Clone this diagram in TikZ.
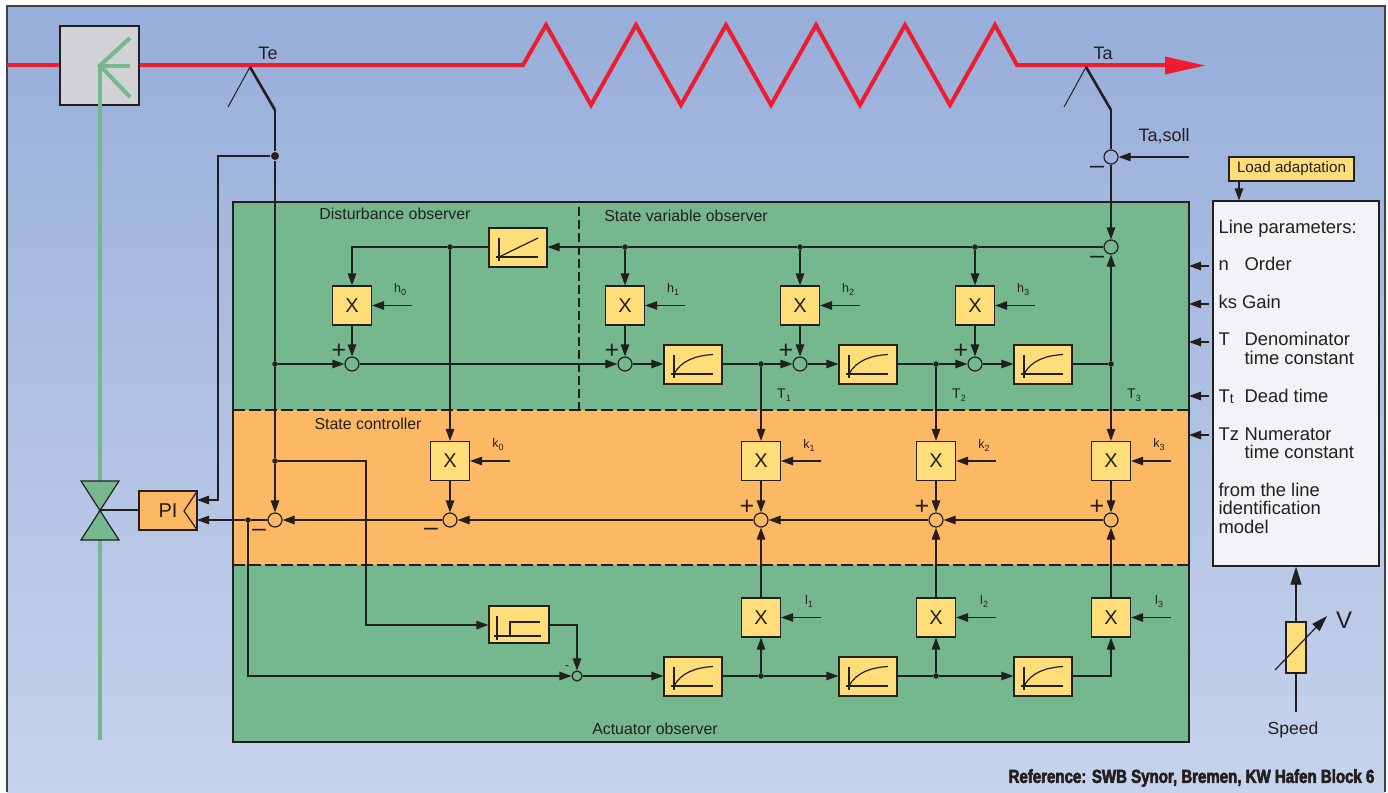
\documentclass[tikz,border=0pt]{standalone}
\usepackage{fontspec}
\setmainfont{Liberation Sans}
\newfontfamily\reffont[FakeStretch=0.8,BoldFeatures={FakeBold=3}]{Liberation Sans}
\usetikzlibrary{arrows.meta}
\definecolor{skytop}{HTML}{97AEDA}
\definecolor{skybot}{HTML}{C6D3EC}
\definecolor{obsgreen}{HTML}{75B88E}
\definecolor{ctrlorange}{HTML}{FDB863}
\definecolor{blockyellow}{HTML}{FFDE79}
\definecolor{pipered}{HTML}{EE1C2E}
\definecolor{inkline}{HTML}{231F20}
\definecolor{paramwhite}{HTML}{F1F3F6}
\definecolor{mixgrey}{HTML}{D0D2D6}

\begin{document}
\begin{tikzpicture}
    [x=1pt, y=-1pt, line width=1.2pt, draw=inkline,
     every node/.style={font=\fontsize{15.9}{18}\selectfont, text=inkline, inner sep=0pt},
     >={Triangle[length=12pt,width=8.5pt]},
     mult/.style={draw, fill=blockyellow, minimum width=39pt, minimum height=39pt, font=\fontsize{20}{20}\selectfont},
     lagbox/.style={draw, fill=blockyellow, minimum width=58pt, minimum height=39pt},
     sumnode/.style={draw, circle, minimum size=14pt},
     smallsum/.style={draw, circle, minimum size=10pt},
     joint/.style={circle, fill=inkline, minimum size=5.5pt},
     gain/.style={font=\fontsize{12.5}{14}\selectfont},
     sign/.style={font=\fontsize{25}{25}\selectfont},
     paramtext/.style={anchor=base west, font=\fontsize{18.4}{20}\selectfont},
     bigtext/.style={font=\fontsize{18}{20}\selectfont},
     pipe/.style={line width=4pt, pipered},
     steam/.style={line width=4pt, obsgreen},
     feeler/.style={line width=1pt},
     feelerthick/.style={line width=2.6pt}]

    \useasboundingbox (0,0) rectangle (1388,792);

    % background
    \shade[top color=skytop, bottom color=skybot] (7,6) rectangle (1385,792);
    \draw[line width=1.5pt, draw=black!75] (7,792) -- (7,6) -- (1385,6) -- (1385,792);

    % the three panels
    \draw[fill=obsgreen] (233,202) rectangle (1189,742);
    \fill[ctrlorange] (233.6,410) rectangle (1188.4,565);
    \draw[dashed, dash pattern=on 12pt off 4pt] (233,410) -- (1189,410);
    \draw[dashed, dash pattern=on 12pt off 4pt] (233,565) -- (1189,565);
    \draw[dashed, dash pattern=on 9pt off 4pt] (579,207) -- (579,410);

    \node (distlab) at (395,214) {Disturbance observer};
    \node (statelab) at (686,216) {State variable observer};
    \node (ctrllab) at (368,424) {State controller};
    \node (actlab) at (655,729) {Actuator observer};

    % plant line
    \node (mixbox) [draw, fill=mixgrey, minimum width=79pt, minimum height=79pt] at (99.5,65.5) {};
    \coordinate (redin) at (7,65);
    \coordinate (mixpt) at (100,65.5);
    \coordinate (redout) at (1172,65);
    \draw[pipe] (redin) -- (mixbox.west |- redin);
    \draw[pipe] (mixbox.east |- redin) -- (523,65) -- (546,25) -- (591,105) -- (636,25) -- (681,105)
        -- (726,25) -- (771,105) -- (816,25) -- (860,105) -- (905,25) -- (950,105) -- (995,25)
        -- (1017,65) -- (redout);
    \fill[pipered] (1165,56.5) -- (1205,65.5) -- (1165,74.5) -- cycle;

    \coordinate (steamend) at (100,740);
    \draw[steam] (steamend) -- (mixpt);
    \draw[steam] (130,38) -- (mixpt) -- (130,97);
    \draw[steam] (mixpt) -- (130,65.5);

    \node (te) [bigtext] at (268,53) {Te};
    \node (ta) [bigtext] at (1103,53) {Ta};
    \node (tasoll) [bigtext] at (1164,136) {Ta,soll};

    % sensors
    \coordinate (teapex) at (250,67);
    \coordinate (tefoot) at (275,110);
    \coordinate (taapex) at (1086,67);
    \coordinate (tafoot) at (1111,110);
    \draw[feeler] (teapex) -- (228,107);
    \draw[feelerthick] (teapex) -- (tefoot);
    \draw[feeler] (taapex) -- (1064,107);
    \draw[feelerthick] (taapex) -- (tafoot);

    % valve and PI
    \node (pi) [draw, fill=ctrlorange, minimum width=58pt, minimum height=39pt, font=\fontsize{20}{20}\selectfont] at (168,510.5) {PI};
    \coordinate (valve) at (100,510);
    \draw[fill=obsgreen] (81,481) -- (119,481) -- (81,540) -- (119,540) -- cycle;
    \draw (valve) -- (pi.west |- valve);
    \draw (pi.north east) -- (184,511) -- (pi.south east);

    % multipliers
    \node (xh0) [mult] at (352,305.5) {X};
    \node (xh1) [mult] at (625,305.5) {X};
    \node (xh2) [mult] at (800,305.5) {X};
    \node (xh3) [mult] at (975,305.5) {X};
    \node (xk0) [mult] at (450,461) {X};
    \node (xk1) [mult] at (761,461) {X};
    \node (xk2) [mult] at (936,461) {X};
    \node (xk3) [mult] at (1111,461) {X};
    \node (xl1) [mult] at (761,617.5) {X};
    \node (xl2) [mult] at (936,617.5) {X};
    \node (xl3) [mult] at (1111,617.5) {X};

    % lag blocks, ramp and step
    \node (ramp) [lagbox] at (518,247.5) {};
    \node (lag1) [lagbox] at (693,364.5) {};
    \node (lag2) [lagbox] at (868,364.5) {};
    \node (lag3) [lagbox] at (1043,364.5) {};
    \node (lag4) [lagbox] at (693,676.5) {};
    \node (lag5) [lagbox] at (868,676.5) {};
    \node (lag6) [lagbox] at (1043,676.5) {};
    \node (limit) [lagbox, minimum width=60pt, minimum height=37pt] at (519,624.5) {};
    \foreach \lagname in {lag1,lag2,lag3,lag4,lag5,lag6} {
      \begin{scope}[shift={(\lagname.center)}]
        \draw (-19,-10) -- (-19,13);
        \draw (-22,9.5) -- (20,9.5);
        \draw (-19,9.5) .. controls (-12,-4) and (3,-9) .. (20,-10);
      \end{scope}
    }
    \draw (ramp.center) ++(-19,-10) -- ++(0,23);
    \draw (ramp.center) ++(-22,9.5) -- ++(42,0);
    \draw (ramp.center) ++(-19,9.5) -- ++(39,-19);
    \draw (limit.center) ++(-22,-9) -- ++(0,24);
    \draw (limit.center) ++(-25,11.5) -- ++(47,0);
    \draw (limit.center) ++(-9,11.5) -- ++(0,-14) -- ++(30,0);

    % summing points
    \node (sh0) [sumnode] at (352,364) {};
    \node (sh1) [sumnode] at (625,364) {};
    \node (sh2) [sumnode] at (800,364) {};
    \node (sh3) [sumnode] at (975,364) {};
    \node (su0) [sumnode] at (275,520) {};
    \node (sk0) [sumnode] at (450,520) {};
    \node (sk1) [sumnode] at (761,520) {};
    \node (sk2) [sumnode] at (936,520) {};
    \node (sk3) [sumnode] at (1111,520) {};
    \node (sset) [sumnode] at (1111,157) {};
    \node (serr) [sumnode] at (1111,247) {};
    \node (slim) [smallsum] at (577,676) {};

    % joints
    \node (jte) [joint, minimum size=8pt] at (275,156) {};
    \node (jh0) [joint] at (275,364) {};
    \node (jlim) [joint] at (275,461) {};
    \node (ju) [joint] at (248,520) {};
    \node (jk0) [joint] at (450,247) {};
    \node (jh1) [joint] at (625,247) {};
    \node (jh2) [joint] at (800,247) {};
    \node (jh3) [joint] at (975,247) {};
    \node (jt1) [joint] at (761,364) {};
    \node (jt2) [joint] at (936,364) {};
    \node (jt3) [joint] at (1111,364) {};
    \node (jl1) [joint] at (761,676) {};
    \node (jl2) [joint] at (936,676) {};

    % measurement lines
    \draw (tefoot) -- (jte);
    \draw (jte) -- (jh0);
    \draw (jh0) -- (jlim);
    \draw[->] (jlim) -- (su0);
    \coordinate (piup) at (197,500);
    \draw[->] (jte) -| (218,500) -- (piup);
    \draw[->] (jlim) -| (366,625) -- (limit.west |- 0,625);
    \draw[->] (limit.east |- 0,625) -| (slim);
    \draw (tafoot) -- (sset);
    \draw[->] (sset) -- (serr);
    \draw[->] (jt3) -- (serr);
    \coordinate (tasollin) at (1189,157);
    \draw[->] (tasollin) -- (sset);

    % observer rows
    \draw (serr) -- (jh3);
    \draw (jh3) -- (jh2);
    \draw (jh2) -- (jh1);
    \draw[->] (jh1) -- (ramp.east |- jh1);
    \draw (ramp.west |- jk0) -- (jk0);
    \draw[->] (jk0) -| (xh0);
    \draw[->] (jk0) -- (xk0);
    \draw[->] (jh1) -- (xh1);
    \draw[->] (jh2) -- (xh2);
    \draw[->] (jh3) -- (xh3);
    \draw[->] (xh0) -- (sh0);
    \draw[->] (xh1) -- (sh1);
    \draw[->] (xh2) -- (sh2);
    \draw[->] (xh3) -- (sh3);
    \draw[->] (jh0) -- (sh0);
    \draw[->] (sh0) -- (sh1);
    \draw[->] (sh1) -- (lag1.west |- sh1);
    \draw (lag1.east |- jt1) -- (jt1);
    \draw[->] (jt1) -- (sh2);
    \draw[->] (sh2) -- (lag2.west |- sh2);
    \draw (lag2.east |- jt2) -- (jt2);
    \draw[->] (jt2) -- (sh3);
    \draw[->] (sh3) -- (lag3.west |- sh3);
    \draw (lag3.east |- jt3) -- (jt3);
    \draw[->] (jt1) -- (xk1);
    \draw[->] (jt2) -- (xk2);
    \draw[->] (jt3) -- (xk3);

    % controller row
    \draw[->] (xk0) -- (sk0);
    \draw[->] (xk1) -- (sk1);
    \draw[->] (xk2) -- (sk2);
    \draw[->] (xk3) -- (sk3);
    \draw[->] (sk3) -- (sk2);
    \draw[->] (sk2) -- (sk1);
    \draw[->] (sk1) -- (sk0);
    \draw[->] (sk0) -- (su0);
    \draw (su0) -- (ju);
    \coordinate (pilow) at (197,520);
    \draw[->] (ju) -- (pilow);

    % actuator row
    \draw[->] (ju) |- (slim);
    \draw[->] (slim) -- (lag4.west |- slim);
    \draw (lag4.east |- jl1) -- (jl1);
    \draw[->] (jl1) -- (lag5.west |- jl1);
    \draw (lag5.east |- jl2) -- (jl2);
    \draw[->] (jl2) -- (lag6.west |- jl2);
    \draw[->] (lag6.east |- jl2) -| (xl3);
    \draw[->] (jl1) -- (xl1);
    \draw[->] (jl2) -- (xl2);
    \draw[->] (xl1) -- (sk1);
    \draw[->] (xl2) -- (sk2);
    \draw[->] (xl3) -- (sk3);

    % gains
    \foreach \blockname/\gainname/\gaintext in {xh0/h/0,xh1/h/1,xh2/h/2,xh3/h/3,xk0/k/0,xk1/k/1,xk2/k/2,xk3/k/3,xl1/l/1,xl2/l/2,xl3/l/3} {
      \coordinate (gainin) at ([xshift=40pt]\blockname.east);
      \draw[->] (gainin) -- (\blockname.east);
      \node (lab\blockname) [gain] at ([xshift=28pt,yshift=16pt]\blockname.east) {\gainname\raisebox{-3pt}{\fontsize{9}{9}\selectfont\gaintext}};
    }
    \node (t1) [gain, font=\fontsize{14}{14}\selectfont] at (784,395) {T\raisebox{-3pt}{\fontsize{9}{9}\selectfont 1}};
    \node (t2) [gain, font=\fontsize{14}{14}\selectfont] at (959,395) {T\raisebox{-3pt}{\fontsize{9}{9}\selectfont 2}};
    \node (t3) [gain, font=\fontsize{14}{14}\selectfont] at (1134,395) {T\raisebox{-3pt}{\fontsize{9}{9}\selectfont 3}};

    % signs
    \node (ph0) [sign] at (339,351) {+};
    \node (ph1) [sign] at (612,351) {+};
    \node (ph2) [sign] at (786,351) {+};
    \node (ph3) [sign] at (961,351) {+};
    \node (pk1) [sign] at (747,507) {+};
    \node (pk2) [sign] at (922,507) {+};
    \node (pk3) [sign] at (1097,507) {+};
    \node (mu0) [sign] at (259,533) {--};
    \node (mk0) [sign] at (431,532) {--};
    \node (mset) [sign] at (1097,170) {--};
    \node (merr) [sign] at (1097,260) {--};
    \node (mlim) [gain] at (567,668) {-};

    % load adaptation and line parameters
    \node (load) [draw, fill=blockyellow, minimum width=125pt, minimum height=24pt, font=\fontsize{15.2}{17}\selectfont] at (1291.5,169) {Load adaptation};
    \node (params) [draw, fill=paramwhite, minimum width=166pt, minimum height=365pt] at (1296,383.5) {};
    \coordinate (loadfoot) at (1239,181);
    \draw[->] (loadfoot) -- (loadfoot |- params.north);

    \node (p0) [paramtext] at (1218,233) {Line parameters:};
    \node (p1) [paramtext] at (1218,270) {n};
    \node (p1b) [paramtext] at (1244,270) {Order};
    \node (p2) [paramtext] at (1218,308) {ks Gain};
    \node (p3) [paramtext] at (1218,345) {T};
    \node (p3b) [paramtext] at (1244,345) {Denominator};
    \node (p3c) [paramtext] at (1244,364) {time constant};
    \node (p4) [paramtext] at (1218,402) {T\raisebox{-1.5pt}{\fontsize{14}{14}\selectfont t}};
    \node (p4b) [paramtext] at (1244,402) {Dead time};
    \node (p5) [paramtext] at (1218,440) {T\raisebox{-0.5pt}{z}};
    \node (p5b) [paramtext] at (1244,440) {Numerator};
    \node (p5c) [paramtext] at (1244,458) {time constant};
    \node (p6) [paramtext] at (1218,496) {from the line};
    \node (p6b) [paramtext] at (1218,514) {identification};
    \node (p6c) [paramtext] at (1218,533) {model};

    \foreach \py in {266,304,342,396,435} {
      \coordinate (pfrom) at (1209,\py);
      \coordinate (pto) at (1189,\py);
      \draw[->] (pfrom) -- (pto);
    }

    % speed input
    \node (pot) [draw, fill=blockyellow, minimum width=20pt, minimum height=51pt] at (1296,647.5) {};
    \coordinate (speedin) at (1296,712);
    \draw (speedin) -- (pot);
    \draw[->, >={Triangle[length=18pt,width=11pt]}] (pot) -- (params.south -| pot);
    \coordinate (slant0) at (1275,670);
    \coordinate (slant1) at (1327,616);
    \draw[->, >={Triangle[length=16pt,width=10pt]}] (slant0) -- (slant1);
    \node (vlab) [font=\fontsize{24}{24}\selectfont] at (1344,620) {V};
    \node (speedlab) [font=\fontsize{17.5}{18}\selectfont] at (1293,730) {Speed};

    \node (reflab) [anchor=east, font=\reffont\bfseries\fontsize{18.8}{20}\selectfont] at (1375,778) {Reference: SWB Synor, Bremen, KW Hafen Block 6};
  \end{tikzpicture}
\end{document}
